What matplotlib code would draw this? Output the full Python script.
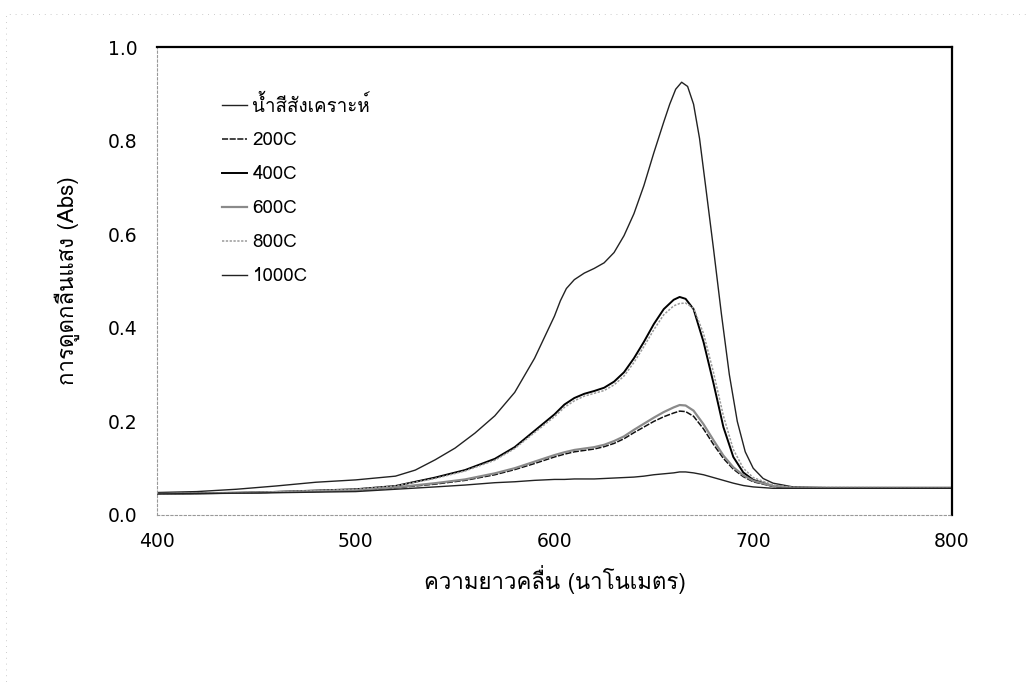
import matplotlib
matplotlib.use("Agg")
import matplotlib.pyplot as plt
from matplotlib import font_manager
from matplotlib.ft2font import FT2Font
from matplotlib.patches import Rectangle


def find_thai_font():
    # pick the first installed family that actually has Thai glyphs
    for f in font_manager.fontManager.ttflist:
        try:
            if 0x0E01 in FT2Font(f.fname).get_charmap():
                return f.name
        except Exception:
            continue
    return "DejaVu Sans"


thai = find_thai_font()
fam = [thai, "DejaVu Sans"]

# wavelength grid (nm) and absorbance for each sample
wl_dye = [400, 420, 440, 460, 480, 500, 520, 530, 540, 550, 560, 570, 580, 590, 600, 603,
          606, 610, 615, 620, 625, 630, 635, 640, 645, 650, 655, 658, 661, 664, 667, 670,
          673, 676, 680, 684, 688, 692, 696, 700, 705, 710, 720, 740, 800]
abs_dye = [0.048, 0.050, 0.055, 0.062, 0.070, 0.075, 0.083, 0.096, 0.118, 0.143, 0.175, 0.212,
           0.262, 0.335, 0.425, 0.458, 0.484, 0.503, 0.517, 0.527, 0.539, 0.561, 0.597, 0.644,
           0.704, 0.774, 0.840, 0.878, 0.910, 0.925, 0.916, 0.878, 0.805, 0.705, 0.570, 0.430,
           0.300, 0.200, 0.135, 0.100, 0.078, 0.068, 0.060, 0.058, 0.058]

wl_s = [400, 450, 500, 520, 540, 555, 570, 580, 590, 600, 605, 610, 615, 620, 625, 630, 635,
        640, 645, 650, 655, 660, 663, 666, 670, 675, 680, 685, 690, 695, 700, 710, 720, 800]
abs_400 = [0.045, 0.048, 0.055, 0.062, 0.080, 0.096, 0.120, 0.145, 0.180, 0.215, 0.236, 0.250,
           0.259, 0.265, 0.272, 0.285, 0.305, 0.335, 0.370, 0.408, 0.440, 0.460, 0.466, 0.462,
           0.440, 0.370, 0.282, 0.188, 0.124, 0.091, 0.075, 0.062, 0.058, 0.058]
abs_800 = [0.045, 0.048, 0.055, 0.062, 0.078, 0.094, 0.117, 0.142, 0.176, 0.210, 0.230, 0.244,
           0.254, 0.260, 0.266, 0.278, 0.297, 0.326, 0.360, 0.396, 0.428, 0.447, 0.452, 0.453,
           0.442, 0.388, 0.305, 0.212, 0.140, 0.100, 0.080, 0.064, 0.059, 0.058]
abs_200 = [0.045, 0.048, 0.052, 0.058, 0.066, 0.074, 0.086, 0.097, 0.110, 0.124, 0.130, 0.135,
           0.138, 0.141, 0.146, 0.153, 0.163, 0.176, 0.188, 0.200, 0.210, 0.218, 0.222, 0.221,
           0.211, 0.184, 0.151, 0.121, 0.098, 0.082, 0.071, 0.061, 0.058, 0.058]
abs_600 = [0.045, 0.048, 0.053, 0.059, 0.068, 0.076, 0.089, 0.100, 0.114, 0.128, 0.134, 0.139,
           0.142, 0.145, 0.150, 0.158, 0.168, 0.182, 0.195, 0.208, 0.220, 0.230, 0.235, 0.234,
           0.223, 0.194, 0.160, 0.127, 0.102, 0.085, 0.073, 0.062, 0.058, 0.058]
abs_1000 = [0.045, 0.047, 0.050, 0.055, 0.060, 0.064, 0.069, 0.071, 0.074, 0.076, 0.076, 0.077,
            0.077, 0.077, 0.078, 0.079, 0.080, 0.081, 0.083, 0.086, 0.088, 0.090, 0.092, 0.092,
            0.090, 0.086, 0.080, 0.074, 0.068, 0.063, 0.060, 0.057, 0.057, 0.057]

labels = ["น้ำสีสังเคราะห์", "200C", "400C", "600C", "800C", "1000C"]
x_ticks = [400, 500, 600, 700, 800]
y_ticks = [0.0, 0.2, 0.4, 0.6, 0.8, 1.0]

fig = plt.figure(figsize=(10.3, 6.86), dpi=100)
ax = fig.add_axes([0.1524, 0.2493, 0.7718, 0.682])

ax.plot(wl_dye, abs_dye, color="#222222", lw=1.0, label=labels[0])
ax.plot(wl_s, abs_200, color="#111111", lw=1.1, ls=(0, (4, 1)), label=labels[1])
ax.plot(wl_s, abs_400, color="black", lw=1.4, label=labels[2])
ax.plot(wl_s, abs_600, color="#8a8a8a", lw=1.6, label=labels[3])
ax.plot(wl_s, abs_800, color="#9a9a9a", lw=1.1, ls=(0, (1.5, 1)), label=labels[4])
ax.plot(wl_s, abs_1000, color="#222222", lw=1.0, label=labels[5])

ax.set_xlim(400, 800)
ax.set_ylim(0, 1.0)
ax.set_xticks(x_ticks)
ax.set_yticks(y_ticks)
ax.set_yticklabels([f"{v:.1f}" for v in y_ticks])
ax.tick_params(length=0, labelsize=13.5, pad=14)
ax.tick_params(axis="x", pad=12)

for side in ["top", "right"]:
    ax.spines[side].set_linewidth(1.6)
for side in ["left", "bottom"]:
    ax.spines[side].set_linewidth(0.8)
    ax.spines[side].set_linestyle((0, (2, 2)))
    ax.spines[side].set_color("#999999")

ax.set_xlabel("ความยาวคลื่น (นาโนเมตร)", family=fam, fontsize=16, labelpad=10)
ax.set_ylabel("การดูดกลืนแสง (Abs)", family=fam, fontsize=16, labelpad=20)

leg = ax.legend(loc="upper left", bbox_to_anchor=(0.06, 0.935), frameon=False,
                handlelength=1.35, handletextpad=0.3, labelspacing=0.85,
                prop={"family": fam, "size": 13.5})

# faint scanned page border
fig.patches.append(Rectangle((0.006, -0.05), 1.2, 1.03, transform=fig.transFigure,
                             fill=False, ec="#bbbbbb", lw=0.6, ls=(0, (1, 6))))

fig.savefig("out.png", dpi=100)
